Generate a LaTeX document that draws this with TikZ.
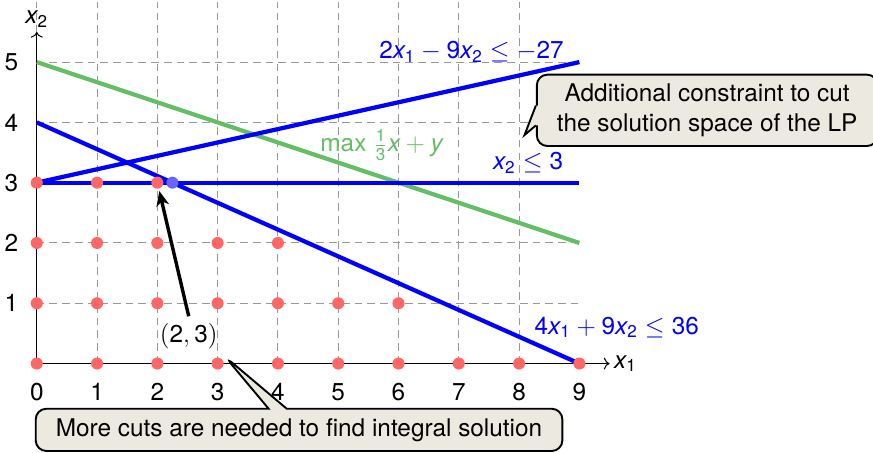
\documentclass[tikz,border=0pt]{standalone}
\usepackage{amsmath}
\usepackage{fontspec}
\setmainfont{TeX Gyre Heros}
\setsansfont{TeX Gyre Heros}
\usetikzlibrary{shapes.callouts,arrows.meta,calc}
\definecolor{lpgreen}{RGB}{100,190,100}
\definecolor{lpblue}{RGB}{0,0,255}
\definecolor{calloutfill}{RGB}{236,234,224}
\newcommand{\vx}[1]{\textit{x}_{\mathsf{#1}}}
\begin{document}
\begin{tikzpicture}[font=\fontsize{11.5}{13.8}\selectfont,
  gridline/.style={gray!80, dashed, dash pattern=on 3.6pt off 2.4pt, line width=0.5pt},
  axis/.style={black, line width=0.5pt, ->},
  constr/.style={lpblue, line width=2pt},
  objline/.style={lpgreen, line width=2pt},
  rdot/.style={circle, fill=red!60, inner sep=0pt, minimum size=0.2cm},
  bdot/.style={circle, fill=blue!60, inner sep=0pt, minimum size=0.2cm},
  tick/.style={inner sep=1pt},
  bluelbl/.style={text=lpblue},
  greenlbl/.style={text=lpgreen},
  boxstyle/.style={draw=black, line width=0.9pt, fill=calloutfill,
    rounded corners=5pt, inner xsep=9.5pt, inner ysep=4.5pt, align=center},
  callbox/.style={boxstyle, rectangle callout, callout pointer width=0.3cm},
  pointarrow/.style={black, line width=1.6pt, -{Stealth[length=7pt,width=6pt,inset=2pt]}, shorten >=1pt}
]
\useasboundingbox (-0.61,-1.47) rectangle (13.87,6.03);
% grid
\draw[gridline] (0,0) grid (8.99,5.99);
% axes
\coordinate (o) at (0,0);
\coordinate (xend) at (9.5,0);
\coordinate (yend) at (0,5.5);
\draw[axis] (o) -- (xend);
\draw[axis] (o) -- (yend);
\node[anchor=west, inner sep=2pt] (xlbl) at (xend) {$\vx1$};
\node[anchor=south, inner sep=2pt] (ylbl) at (yend) {$\vx2$};
% ticks
\foreach \i in {0,...,9} \node[tick] (tx\i) at (\i,-0.47) {\i};
\foreach \j in {1,...,5} \node[tick] (ty\j) at (-0.42,\j) {\j};
% constraint lines
\coordinate (a1) at (0,4); \coordinate (a2) at (9,0);
\coordinate (b1) at (0,3); \coordinate (b2) at (9,3);
\coordinate (c1) at (0,3); \coordinate (c2) at (9,5);
\coordinate (g1) at (0,5); \coordinate (g2) at (9,2);
\draw[objline] (g1) -- (g2);
\draw[constr] (a1) -- (a2);
\draw[constr] (b1) -- (b2);
\draw[constr] (c1) -- (c2);
% integer points
\foreach \x in {0,...,9} \node[rdot] (p\x0) at (\x,0) {};
\foreach \x in {0,...,6} \node[rdot] (p\x1) at (\x,1) {};
\foreach \x in {0,...,4} \node[rdot] (p\x2) at (\x,2) {};
\foreach \x in {0,...,2} \node[rdot] (p\x3) at (\x,3) {};
\node[bdot] (lpopt) at (2.25,3) {};
% labels
\node[bluelbl] (lc) at (7.21,5.17) {$\mathsf{2}\vx1 - \mathsf{9}\vx2 \leq -\mathsf{27}$};
\node[greenlbl] (lg) at (5.72,3.62) {$\mathsf{max}\ \tfrac{\mathsf{1}}{\mathsf{3}}\textit{x} + \textit{y}$};
\node[bluelbl] (lb) at (8.15,3.33) {$\vx2 \leq \mathsf{3}$};
\node[bluelbl] (la) at (9.62,0.60) {$\mathsf{4}\vx1 + \mathsf{9}\vx2 \leq \mathsf{36}$};
% point label and arrow
\node (lbl) at (2.52,0.45) {$(\mathsf{2},\mathsf{3})$};
\draw[pointarrow] (lbl.north) -- (p23);
% top callout (box with pointer)
\coordinate (tipA) at (8.09,3.79);
\node[boxstyle] (calA) at (11.12,4.20)
  {Additional constraint to cut\\the solution space of the LP};
\coordinate (baseAt) at ($(calA.west)+(0,0.08)$);
\coordinate (baseAb) at ($(calA.west)+(0,-0.25)$);
\fill[calloutfill] ($(baseAt)+(0.12,0)$) -- ($(baseAt)+(-0.02,0)$) -- (tipA) -- ($(baseAb)+(-0.02,0)$) -- ($(baseAb)+(0.12,0)$) -- cycle;
\draw[black, line width=0.9pt, line join=miter] (baseAt) -- (tipA) -- (baseAb);
% bottom callout
\node[callbox, callout absolute pointer={(lbl.south east)}] (calB) at (4.35,-1.10)
  {More cuts are needed to find integral solution};
\end{tikzpicture}
\end{document}
